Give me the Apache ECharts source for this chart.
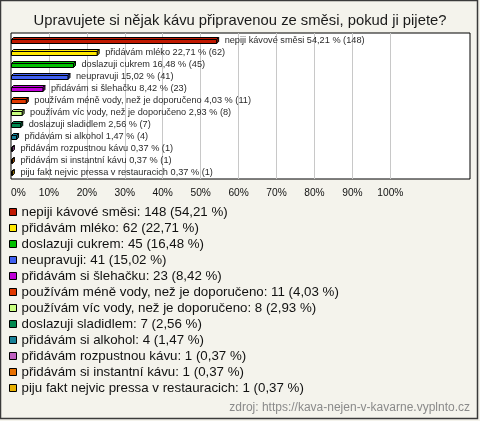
<!DOCTYPE html>
<html>
<head>
<meta charset="utf-8">
<script src="https://cdn.jsdelivr.net/npm/echarts@6/dist/echarts.min.js"></script>
<style>
  html, body { margin: 0; padding: 0; background: #f4f3ec; }
  #chart { width: 480px; height: 421px; }
</style>
</head>
<body>
<div id="chart"></div>
<script>
var categories = [
  'nepiji kávové směsi',
  'přidávám mléko',
  'doslazuji cukrem',
  'neupravuji',
  'přidávám si šlehačku',
  'používám méně vody, než je doporučeno',
  'používám víc vody, než je doporučeno',
  'doslazuji sladidlem',
  'přidávám si alkohol',
  'přidávám rozpustnou kávu',
  'přidávám si instantní kávu',
  'piju fakt nejvic pressa v restauracich'
]
var counts = [148, 62, 45, 41, 23, 11, 8, 7, 4, 1, 1, 1]
var percents = [54.21, 22.71, 16.48, 15.02, 8.42, 4.03, 2.93, 2.56, 1.47, 0.37, 0.37, 0.37]
var colors = ['#c01800', '#ffe800', '#00c000', '#4060f0', '#c000d8', '#e03800',
  '#c8ff80', '#008850', '#188098', '#c060c0', '#e87000', '#e8b000']
var axisTicks = [0, 10, 20, 30, 40, 50, 60, 70, 80, 90, 100]

function fmt (v) {
  return v.toFixed(2).replace('.', ',')
}

function shade (hex, k) {
  var n = parseInt(hex.slice(1), 16)
  var r = Math.round(((n >> 16) & 255) * k)
  var g = Math.round(((n >> 8) & 255) * k)
  var b = Math.round((n & 255) * k)
  return 'rgb(' + r + ',' + g + ',' + b + ')'
}

// 3D bar: front face + top face + right side, with label after it
function renderBar (params, api) {
  var idx = api.value(1)
  var start = api.coord([0, idx])
  var end = api.coord([api.value(0), idx])
  var d = 2
  var h = 4
  var x0 = start[0] + 0.5
  var x1 = end[0]
  var yt = Math.round(end[1]) - 1.5
  var yb = yt + h
  var color = colors[idx]
  var stroke = { stroke: '#000', lineWidth: 1 }
  return {
    type: 'group',
    children: [
      {
        type: 'polygon',
        shape: { points: [[x0, yt], [x0 + d, yt - d], [x1 + d, yt - d], [x1, yt]] },
        style: Object.assign({ fill: color }, stroke)
      },
      {
        type: 'polygon',
        shape: { points: [[x1, yt], [x1 + d, yt - d], [x1 + d, yb - d], [x1, yb]] },
        style: Object.assign({ fill: shade(color, 0.7) }, stroke)
      },
      {
        type: 'rect',
        shape: { x: x0, y: yt, width: Math.max(x1 - x0, 0.5), height: h },
        style: Object.assign({ fill: color }, stroke)
      },
      {
        type: 'text',
        x: x1 + 8,
        y: end[1] - 0.5,
        style: {
          text: categories[idx] + ' ' + fmt(percents[idx]) + ' % (' + counts[idx] + ')',
          fill: '#2a2a2a',
          font: '9.2px "Liberation Sans", Arial, sans-serif',
          verticalAlign: 'middle'
        }
      }
    ]
  }
}

var myChart = echarts.init(document.getElementById('chart'))

var splitColors = []
for (var i = 0; i < 16; i++) {
  splitColors.push(i >= 1 && i < axisTicks.length ? '#c8c8c8' : 'rgba(0,0,0,0)')
}

var option = {
  backgroundColor: '#f4f3ec',
  animation: false,
  textStyle: { fontFamily: '"Liberation Sans", Arial, sans-serif' },
  title: [
    {
      text: 'Upravujete si nějak kávu připravenou ze směsi, pokud ji pijete?',
      left: 'center',
      top: 13,
      padding: 0,
      textStyle: { fontSize: 14.8, fontWeight: 'normal', color: '#1a1a1a' }
    },
    {
      text: 'zdroj: https://kava-nejen-v-kavarne.vyplnto.cz',
      right: 10,
      bottom: 7,
      padding: 0,
      textStyle: { fontSize: 12, fontWeight: 'normal', color: '#8a8a8a' }
    }
  ],
  grid: [
    {
      // plot box with gridlines and percent labels
      left: 11,
      width: 459,
      top: 33,
      height: 146,
      show: true,
      backgroundColor: '#fff',
      borderColor: '#000',
      borderWidth: 1
    },
    {
      // bars
      left: 11,
      width: 459,
      top: 35,
      height: 144
    }
  ],
  xAxis: [
    {
      gridIndex: 0,
      type: 'value',
      min: 0,
      max: 121,
      interval: 10,
      axisLine: { show: false },
      axisTick: { show: false },
      splitLine: { show: true, lineStyle: { color: splitColors, width: 1 } },
      axisLabel: {
        margin: 9,
        fontSize: 10.2,
        color: '#111',
        alignMinLabel: 'left',
        formatter: function (v) {
          return axisTicks.indexOf(v) >= 0 ? v + '%' : ''
        }
      }
    },
    {
      gridIndex: 1,
      type: 'value',
      min: 0,
      max: 121,
      show: false
    }
  ],
  yAxis: [
    {
      gridIndex: 0,
      type: 'value',
      show: false
    },
    {
      gridIndex: 1,
      type: 'category',
      inverse: true,
      data: categories,
      show: false
    }
  ],
  legend: {
    orient: 'vertical',
    left: 9,
    top: 204,
    padding: 0,
    itemGap: 0,
    itemWidth: 7,
    itemHeight: 7,
    icon: 'rect',
    data: categories,
    itemStyle: { borderColor: '#000', borderWidth: 1 },
    textStyle: { fontSize: 13.3, color: '#111', lineHeight: 16, height: 16 },
    formatter: function (name) {
      var i = categories.indexOf(name)
      return name + ': ' + counts[i] + ' (' + fmt(percents[i]) + ' %)'
    }
  },
  graphic: [
    {
      type: 'rect',
      shape: { x: 0.5, y: 0.5, width: 477, height: 418 },
      style: { fill: null, stroke: '#3a3a3a', lineWidth: 1.5 },
      z: 100
    }
  ],
  series: categories.map(function (name, i) {
    return {
      type: 'custom',
      name: name,
      xAxisIndex: 1,
      yAxisIndex: 1,
      renderItem: renderBar,
      itemStyle: { color: colors[i] },
      encode: { x: 0, y: 1 },
      data: [[percents[i], i, counts[i]]]
    }
  })
}

myChart.setOption(option, true)
</script>
</body>
</html>
